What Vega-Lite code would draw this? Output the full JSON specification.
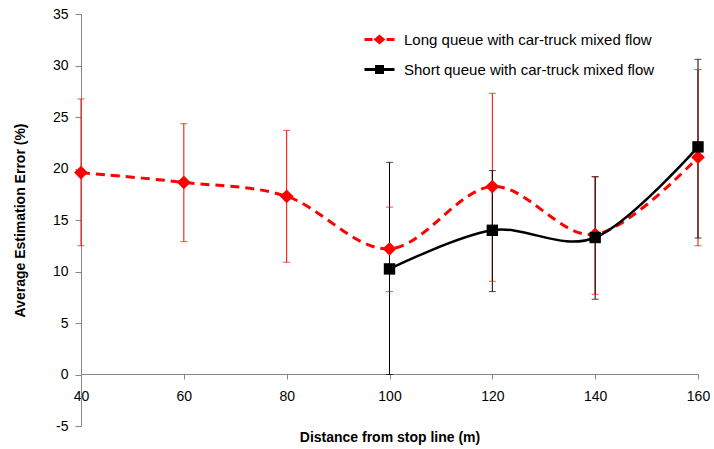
{
  "$schema": "https://vega.github.io/schema/vega-lite/v6.json",
  "width": 617,
  "height": 412,
  "autosize": {"type": "none"},
  "padding": {"left": 81, "top": 14, "right": 16, "bottom": 23},
  "background": "white",
  "config": {
    "view": {"stroke": null},
    "font": "Liberation Sans",
    "axis": {"grid": false, "domainColor": "#868686", "tickColor": "#868686", "labelColor": "#000000", "labelFont": "Liberation Sans", "labelFontSize": 14, "titleFont": "Liberation Sans", "titleFontSize": 14, "titleFontWeight": "bold", "titleColor": "#000000"}
  },
  "datasets": {
    "pts": [
      {"d": 40, "series": "Long queue with car-truck mixed flow", "v": 19.6, "lo": 12.5, "hi": 26.75},
      {"d": 60, "series": "Long queue with car-truck mixed flow", "v": 18.65, "lo": 12.9, "hi": 24.35},
      {"d": 80, "series": "Long queue with car-truck mixed flow", "v": 17.3, "lo": 10.9, "hi": 23.7},
      {"d": 100, "series": "Long queue with car-truck mixed flow", "v": 12.2, "lo": 8.05, "hi": 16.25},
      {"d": 120, "series": "Long queue with car-truck mixed flow", "v": 18.25, "lo": 9.05, "hi": 27.3},
      {"d": 140, "series": "Long queue with car-truck mixed flow", "v": 13.6, "lo": 7.8, "hi": 19.2},
      {"d": 160, "series": "Long queue with car-truck mixed flow", "v": 21.1, "lo": 12.5, "hi": 29.6},
      {"d": 100, "series": "Short queue with car-truck mixed flow", "v": 10.25, "lo": 0, "hi": 20.6},
      {"d": 120, "series": "Short queue with car-truck mixed flow", "v": 14.0, "lo": 8.05, "hi": 19.8},
      {"d": 140, "series": "Short queue with car-truck mixed flow", "v": 13.3, "lo": 7.3, "hi": 19.2},
      {"d": 160, "series": "Short queue with car-truck mixed flow", "v": 22.1, "lo": 13.25, "hi": 30.6}
    ]
  },
  "data": {"name": "pts"},
  "encoding": {
    "x": {"field": "d", "type": "quantitative", "scale": {"domain": [40, 160], "nice": false, "zero": false},
      "axis": {"title": "Distance from stop line (m)", "values": [40, 60, 80, 100, 120, 140, 160], "offset": -52, "tickSize": 5, "labelPadding": 10, "titlePadding": 27, "labelFlush": false}},
    "y": {"type": "quantitative", "scale": {"domain": [-5, 35], "nice": false, "zero": false},
      "axis": {"title": "Average Estimation Error (%)", "values": [-5, 0, 5, 10, 15, 20, 25, 30, 35], "labelExpr": "datum.value < 0 ? '-' + abs(datum.value) : '' + datum.value", "tickSize": 6, "labelPadding": 7, "titlePadding": 25}}
  },
  "layer": [
    {
      "mark": {"type": "point", "filled": true, "size": 0, "opacity": 1},
      "encoding": {
        "y": {"field": "v", "type": "quantitative"},
        "color": {"field": "series", "type": "nominal",
          "scale": {"domain": ["Long queue with car-truck mixed flow", "Short queue with car-truck mixed flow"], "range": ["#ff0000", "#000000"]},
          "legend": {
            "title": null, "orient": "none", "legendX": 291, "legendY": 18,
            "symbolSize": 100, "symbolStrokeWidth": 0, "symbolOpacity": 1, "labelLimit": 0,
            "labelFont": "Liberation Sans", "labelFontSize": 15, "labelColor": "#000000", "labelOffset": 17,
            "rowPadding": 14
          }},
        "shape": {"field": "series", "type": "nominal",
          "scale": {"domain": ["Long queue with car-truck mixed flow", "Short queue with car-truck mixed flow"],
            "range": ["M-3,-0.3H-1.4V0.3H-3Z M1.4,-0.3H3V0.3H1.4Z M0,-1L1.2,0L0,1L-1.2,0Z", "M-3,-0.3H3V0.3H-3Z M-0.9,-0.9H0.9V0.9H-0.9Z"]},
          "legend": {
            "title": null, "orient": "none", "legendX": 291, "legendY": 18,
            "symbolSize": 100, "symbolStrokeWidth": 0, "symbolOpacity": 1, "labelLimit": 0,
            "labelFont": "Liberation Sans", "labelFontSize": 15, "labelColor": "#000000", "labelOffset": 17,
            "rowPadding": 14
          }
        }
      }
    },
    {
      "mark": {"type": "rule", "strokeWidth": 1},
      "encoding": {
        "y": {"field": "lo", "type": "quantitative"},
        "y2": {"field": "hi"},
        "color": {"field": "series", "type": "nominal", "legend": null}
      }
    },
    {
      "mark": {"type": "tick", "orient": "horizontal", "size": 7, "thickness": 1},
      "encoding": {
        "y": {"field": "lo", "type": "quantitative"},
        "color": {"field": "series", "type": "nominal", "legend": null}
      }
    },
    {
      "mark": {"type": "tick", "orient": "horizontal", "size": 7, "thickness": 1},
      "encoding": {
        "y": {"field": "hi", "type": "quantitative"},
        "color": {"field": "series", "type": "nominal", "legend": null}
      }
    },
    {
      "transform": [{"filter": "datum.series === 'Long queue with car-truck mixed flow'"}],
      "mark": {"type": "line", "interpolate": "cardinal", "color": "#ff0000", "strokeWidth": 3, "strokeDash": [9, 6]},
      "encoding": {"y": {"field": "v", "type": "quantitative"}}
    },
    {
      "transform": [{"filter": "datum.series === 'Short queue with car-truck mixed flow'"}],
      "mark": {"type": "line", "interpolate": "cardinal", "color": "#000000", "strokeWidth": 2.5},
      "encoding": {"y": {"field": "v", "type": "quantitative"}}
    },
    {
      "transform": [{"filter": "datum.series === 'Long queue with car-truck mixed flow'"}],
      "mark": {"type": "point", "shape": "diamond", "filled": true, "color": "#ff0000", "size": 190, "opacity": 1},
      "encoding": {"y": {"field": "v", "type": "quantitative"}}
    },
    {
      "transform": [{"filter": "datum.series === 'Short queue with car-truck mixed flow'"}],
      "mark": {"type": "point", "shape": "square", "filled": true, "color": "#000000", "size": 130, "opacity": 1},
      "encoding": {"y": {"field": "v", "type": "quantitative"}}
    }
  ]
}
